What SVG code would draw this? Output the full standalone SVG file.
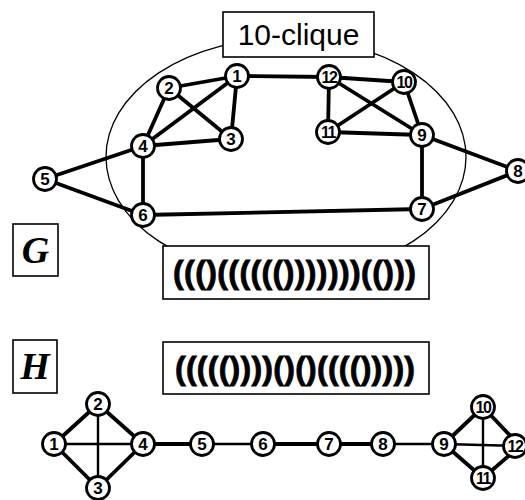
<svg xmlns="http://www.w3.org/2000/svg" width="525" height="500" viewBox="0 0 525 500">
<style>
.e{stroke:#000;stroke-width:3.8;fill:none;stroke-linecap:round}
.t{stroke-width:2.4}
.n circle{fill:#fff;stroke:#000;stroke-width:2.8}
.n text{font-family:"Liberation Sans",Arial,sans-serif;font-weight:bold;font-size:17px;text-anchor:middle}
.n .d{font-size:16px;letter-spacing:-1.5px}
.box{fill:#fff;stroke:#000;stroke-width:1.6}
.par{font-family:"Liberation Sans",Arial,sans-serif;font-weight:bold;font-size:32px;stroke:#000;stroke-width:0.8}
.lab{font-family:"Liberation Serif","Times New Roman",serif;font-weight:bold;font-style:italic;font-size:38px;text-anchor:middle}
</style>
<rect width="525" height="500" fill="#fff"/>
<ellipse id="clique-region" cx="286" cy="157" rx="180" ry="119" fill="none" stroke="#000" stroke-width="1.3"/>
<g id="connectors-G">
<line class="e" x1="237" y1="76" x2="169" y2="88"/>
<line class="e" x1="237" y1="76" x2="143" y2="146"/>
<line class="e" x1="237" y1="76" x2="231" y2="139"/>
<line class="e" x1="169" y1="88" x2="143" y2="146"/>
<line class="e" x1="169" y1="88" x2="231" y2="139"/>
<line class="e" x1="231" y1="139" x2="143" y2="146"/>
<line class="e" x1="237" y1="76" x2="329" y2="77"/>
<line class="e" x1="329" y1="77" x2="404" y2="82"/>
<line class="e" x1="329" y1="77" x2="328" y2="132"/>
<line class="e" x1="329" y1="77" x2="422" y2="135"/>
<line class="e" x1="404" y1="82" x2="328" y2="132"/>
<line class="e" x1="404" y1="82" x2="422" y2="135"/>
<line class="e" x1="328" y1="132" x2="422" y2="135"/>
<line class="e" x1="143" y1="146" x2="45" y2="179"/>
<line class="e" x1="45" y1="179" x2="143" y2="215"/>
<line class="e" x1="143" y1="146" x2="143" y2="215"/>
<line class="e" x1="143" y1="215" x2="422" y2="209"/>
<line class="e" x1="422" y1="209" x2="422" y2="135"/>
<line class="e" x1="422" y1="135" x2="518" y2="171"/>
<line class="e" x1="422" y1="209" x2="518" y2="171"/>
</g>
<g id="connectors-H">
<line class="e" x1="54" y1="444" x2="98" y2="404"/>
<line class="e" x1="98" y1="404" x2="143" y2="444"/>
<line class="e" x1="54" y1="444" x2="98" y2="488"/>
<line class="e" x1="98" y1="488" x2="143" y2="444"/>
<line class="e t" x1="54" y1="444" x2="143" y2="444"/>
<line class="e t" x1="98" y1="404" x2="98" y2="488"/>
<line class="e" x1="143" y1="444" x2="202" y2="444"/>
<line class="e t" x1="202" y1="444" x2="263" y2="444"/>
<line class="e" x1="263" y1="444" x2="329" y2="444"/>
<line class="e" x1="329" y1="444" x2="383" y2="444"/>
<line class="e t" x1="383" y1="444" x2="444" y2="444"/>
<line class="e" x1="444" y1="444" x2="483" y2="407"/>
<line class="e" x1="483" y1="407" x2="520" y2="446"/>
<line class="e" x1="444" y1="444" x2="483" y2="478"/>
<line class="e" x1="483" y1="478" x2="520" y2="446"/>
<line class="e t" x1="444" y1="444" x2="520" y2="446"/>
<line class="e t" x1="483" y1="407" x2="483" y2="478"/>
</g>
<g id="clique-label">
<rect class="box" x="223" y="12" width="151" height="45"/>
<text x="298.5" y="45" font-family="Liberation Sans,Arial,sans-serif" font-size="30" text-anchor="middle">10-clique</text>
</g>
<g id="G-label"><rect class="box" x="13" y="224" width="45" height="52"/><text class="lab" x="35.5" y="263">G</text></g>
<g id="H-label"><rect class="box" x="13" y="340" width="44" height="53"/><text class="lab" x="35" y="379">H</text></g>
<g id="G-code"><rect class="box" x="163" y="246" width="266" height="53"/><text class="par" x="173" y="283" textLength="243" lengthAdjust="spacing">((()(((((()))))))(()))</text></g>
<g id="H-code"><rect class="box" x="163" y="342" width="266" height="52"/><text class="par" x="175" y="379" textLength="240" lengthAdjust="spacing">((((())))()()(((()))))</text></g>
<g id="G1" class="n"><circle cx="237" cy="76" r="11.5"/><text x="237" y="82">1</text></g>
<g id="G2" class="n"><circle cx="169" cy="88" r="11.5"/><text x="169" y="94">2</text></g>
<g id="G3" class="n"><circle cx="231" cy="139" r="11.5"/><text x="231" y="145">3</text></g>
<g id="G4" class="n"><circle cx="143" cy="146" r="11.5"/><text x="143" y="152">4</text></g>
<g id="G5" class="n"><circle cx="45" cy="179" r="11.5"/><text x="45" y="185">5</text></g>
<g id="G6" class="n"><circle cx="143" cy="215" r="11.5"/><text x="143" y="221">6</text></g>
<g id="G7" class="n"><circle cx="422" cy="209" r="11.5"/><text x="422" y="215">7</text></g>
<g id="G8" class="n"><circle cx="518" cy="171" r="11.5"/><text x="518" y="177">8</text></g>
<g id="G9" class="n"><circle cx="422" cy="135" r="11.5"/><text x="422" y="141">9</text></g>
<g id="G10" class="n"><circle cx="404" cy="82" r="11.5"/><text class="d" x="404" y="88">10</text></g>
<g id="G11" class="n"><circle cx="328" cy="132" r="11.5"/><text class="d" x="328" y="138">11</text></g>
<g id="G12" class="n"><circle cx="329" cy="77" r="11.5"/><text class="d" x="329" y="83">12</text></g>
<g id="H1" class="n"><circle cx="54" cy="444" r="11.5"/><text x="54" y="450">1</text></g>
<g id="H2" class="n"><circle cx="98" cy="404" r="11.5"/><text x="98" y="410">2</text></g>
<g id="H3" class="n"><circle cx="98" cy="488" r="11.5"/><text x="98" y="494">3</text></g>
<g id="H4" class="n"><circle cx="143" cy="444" r="11.5"/><text x="143" y="450">4</text></g>
<g id="H5" class="n"><circle cx="202" cy="444" r="11.5"/><text x="202" y="450">5</text></g>
<g id="H6" class="n"><circle cx="263" cy="444" r="11.5"/><text x="263" y="450">6</text></g>
<g id="H7" class="n"><circle cx="329" cy="444" r="11.5"/><text x="329" y="450">7</text></g>
<g id="H8" class="n"><circle cx="383" cy="444" r="11.5"/><text x="383" y="450">8</text></g>
<g id="H9" class="n"><circle cx="444" cy="444" r="11.5"/><text x="444" y="450">9</text></g>
<g id="H10" class="n"><circle cx="483" cy="407" r="11.5"/><text class="d" x="483" y="413">10</text></g>
<g id="H11" class="n"><circle cx="483" cy="478" r="11.5"/><text class="d" x="483" y="484">11</text></g>
<g id="H12" class="n"><circle cx="515" cy="446" r="11.5"/><text class="d" x="515" y="452">12</text></g>
</svg>
